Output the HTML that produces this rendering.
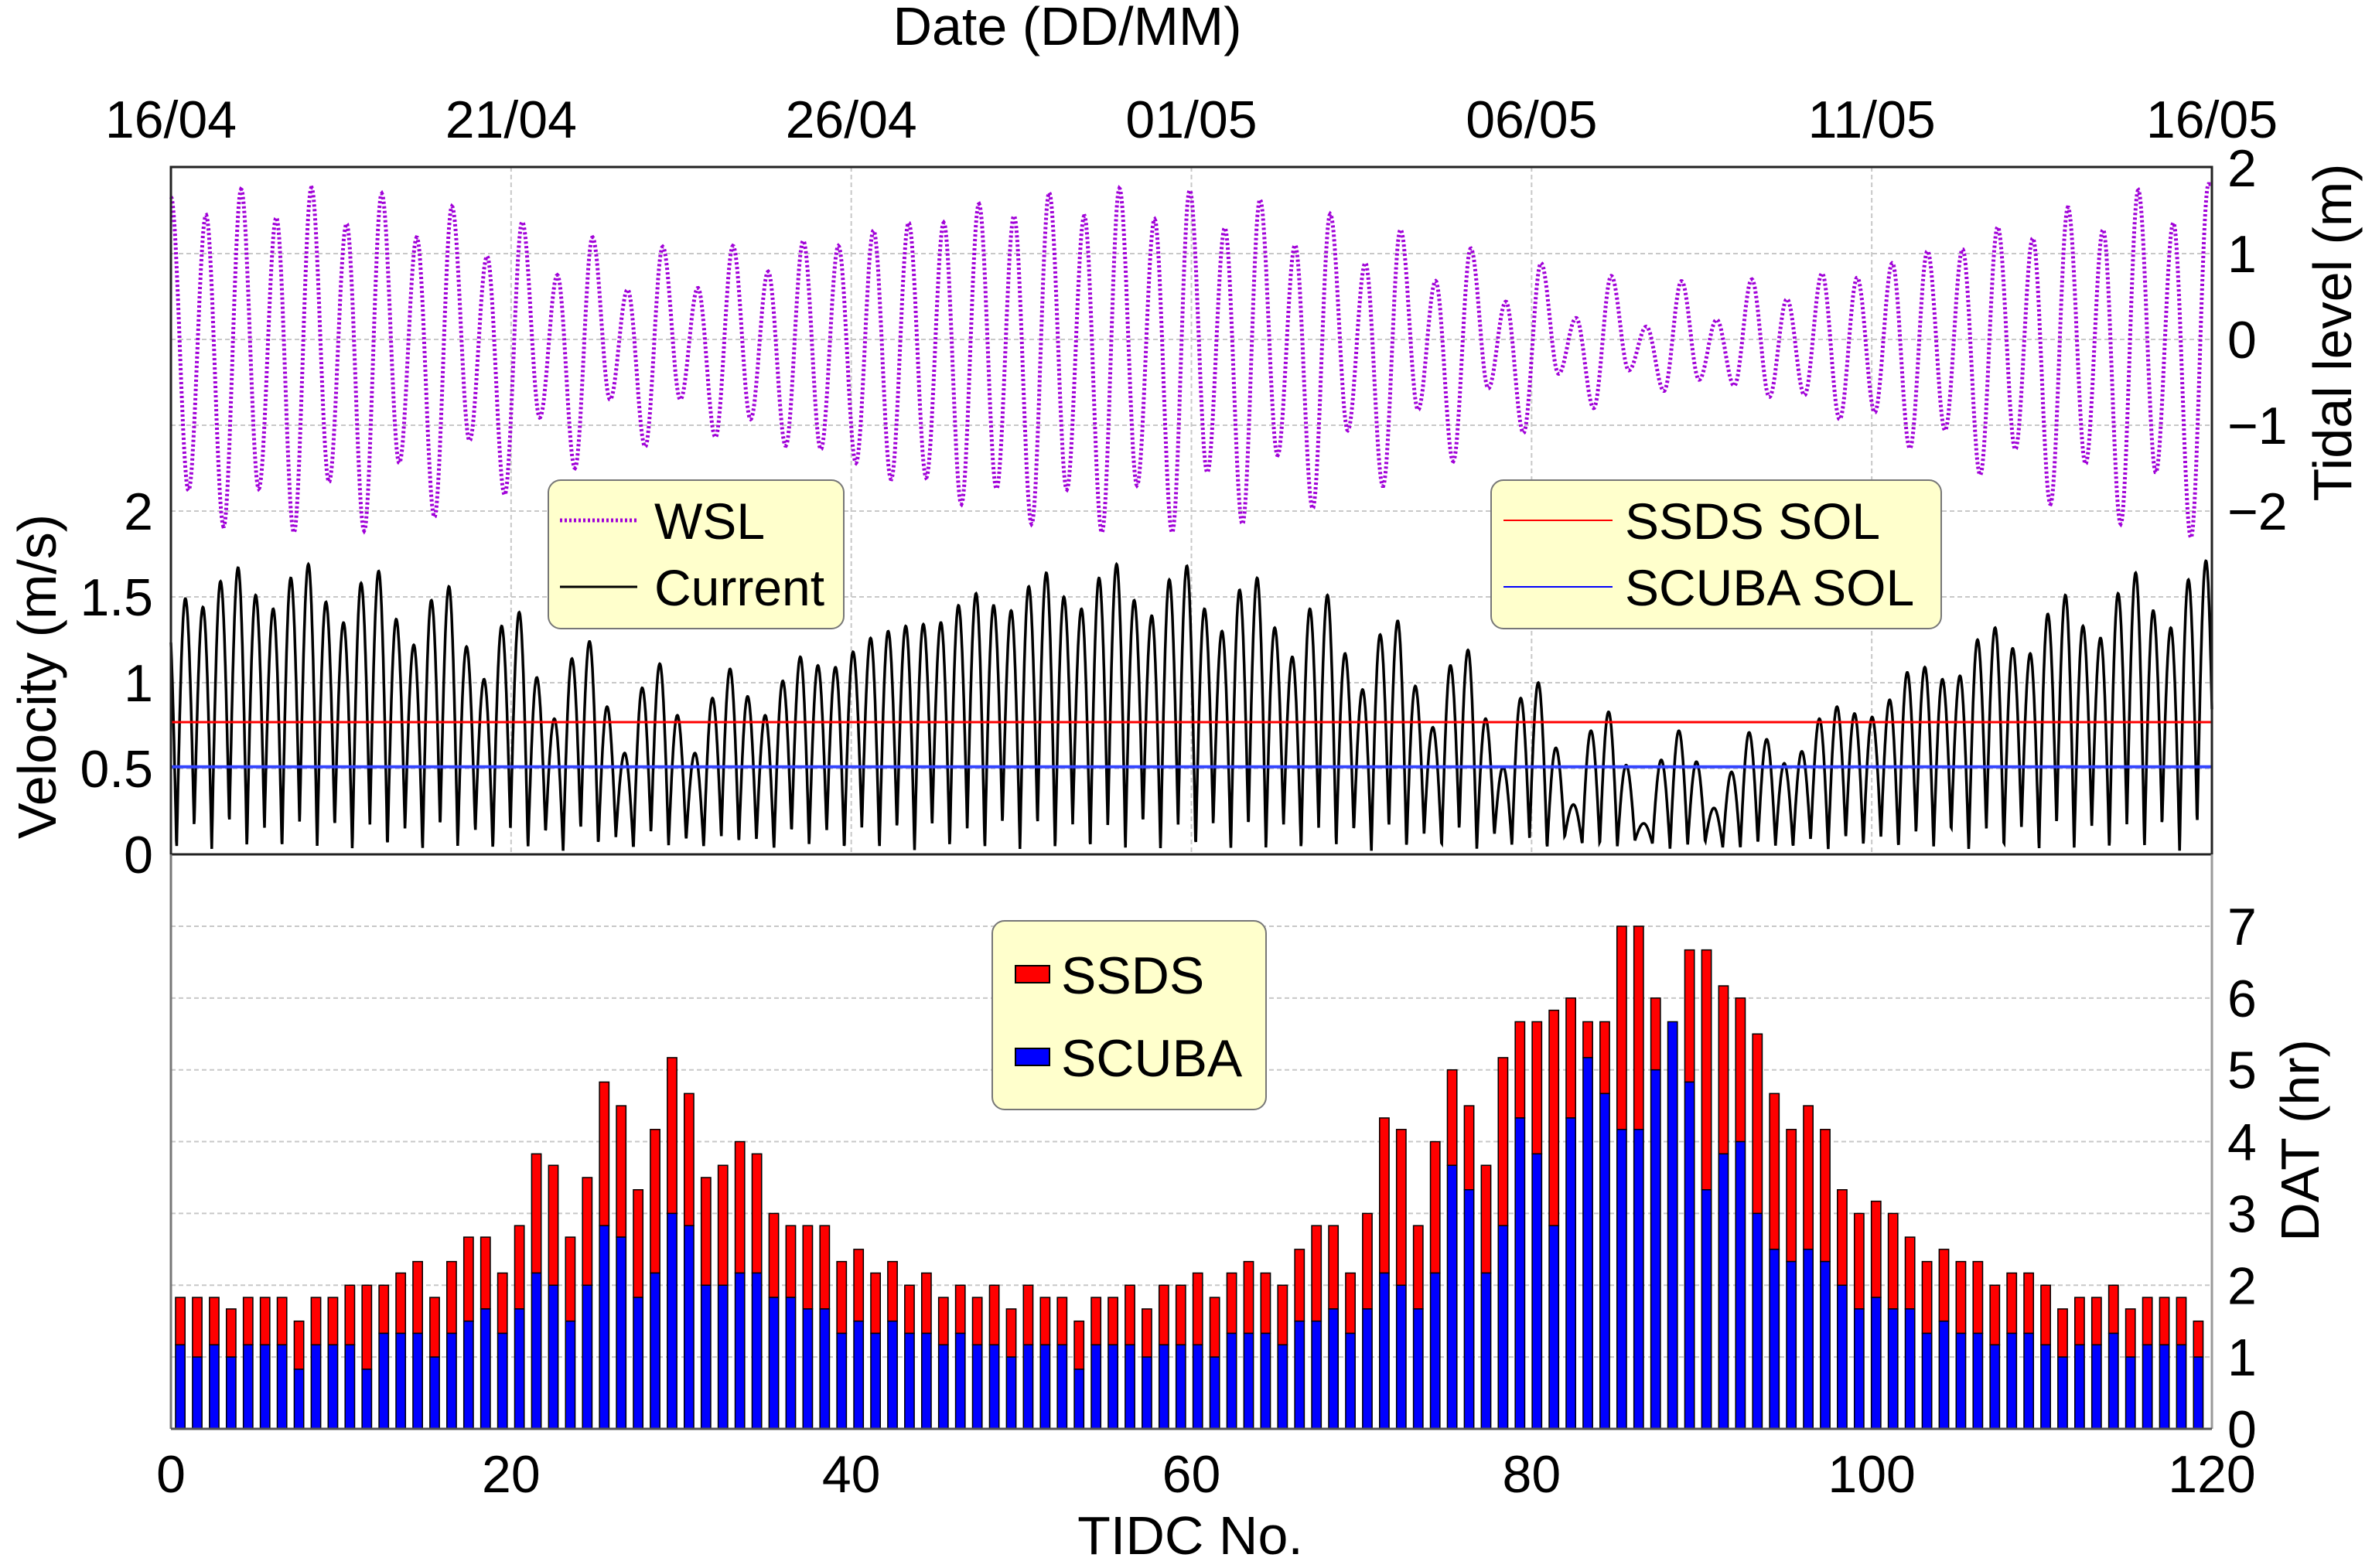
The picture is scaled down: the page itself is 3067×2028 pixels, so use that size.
<!DOCTYPE html>
<html><head><meta charset="utf-8"><style>
html,body{margin:0;padding:0;background:#fff;}
svg{display:block;font-family:"Liberation Sans",Arial,sans-serif;}
</style></head><body>
<svg id="chart" width="3067" height="2028" viewBox="0 0 3067 2028" xmlns="http://www.w3.org/2000/svg">
<rect x="0" y="0" width="3067" height="2028" fill="#fff"/>
<g id="grid"></g>
<g id="bars"></g>
<g id="lines"></g>
<g id="frame"></g>
<g id="labels"></g>

<text x="1380" y="58" font-size="70" text-anchor="middle">Date (DD/MM)</text>
<text x="1539" y="2010" font-size="70" text-anchor="middle">TIDC No.</text>
<text transform="translate(72,875) rotate(-90)" font-size="70" text-anchor="middle">Velocity (m/s)</text>
<text transform="translate(3040,430) rotate(-90)" font-size="70" text-anchor="middle">Tidal level (m)</text>
<text transform="translate(2998,1475) rotate(-90)" font-size="70" text-anchor="middle">DAT (hr)</text>

<g>
<rect x="709" y="621" width="382" height="192" rx="16" fill="#ffffcc" stroke="#777" stroke-width="2"/>
<line x1="724" y1="673" x2="824" y2="673" stroke="#a000d8" stroke-width="5" stroke-dasharray="3 3"/>
<text x="846" y="697" font-size="66">WSL</text>
<line x1="724" y1="759" x2="824" y2="759" stroke="#000" stroke-width="3"/>
<text x="846" y="783" font-size="66">Current</text>
</g>
<g>
<rect x="1928" y="621" width="582" height="192" rx="16" fill="#ffffcc" stroke="#777" stroke-width="2"/>
<line x1="1944" y1="673" x2="2085" y2="673" stroke="#f00" stroke-width="2"/>
<text x="2101" y="697" font-size="66">SSDS SOL</text>
<line x1="1944" y1="759" x2="2085" y2="759" stroke="#00f" stroke-width="2"/>
<text x="2101" y="783" font-size="66">SCUBA SOL</text>
</g>
<g>
<rect x="1283" y="1191" width="354" height="244" rx="16" fill="#ffffcc" stroke="#777" stroke-width="2"/>
<rect x="1313" y="1249" width="44" height="22" fill="#f00" stroke="#000" stroke-width="2"/>
<text x="1372" y="1285" font-size="68">SSDS</text>
<rect x="1313" y="1356" width="44" height="22" fill="#00f" stroke="#000" stroke-width="2"/>
<text x="1372" y="1392" font-size="68">SCUBA</text>
</g>
</svg>
<script>
// ---------- data ----------
const dateLabels = ["16/04","21/04","26/04","01/05","06/05","11/05","16/05"];
const tidcTicks = [0,20,40,60,80,100,120];
const tideTicks = [2,1,0,-1,-2];
const velTicks = [2,1.5,1,0.5,0];
const datTicks = [0,1,2,3,4,5,6,7];
const ssdsSol = [0.77];
const scubaSol = [0.51];
const tideHighs = [1.66,1.45,1.75,1.42,1.77,1.35,1.70,1.19,1.55,0.97,1.37,0.75,1.19,0.58,1.08,
 0.60,1.09,0.79,1.15,1.09,1.27,1.36,1.36,1.58,1.44,1.71,1.44,1.76,1.40,1.74,
 1.30,1.63,1.10,1.46,0.89,1.28,0.68,1.06,0.44,0.89,0.25,0.74,0.15,0.68,
 0.23,0.70,0.47,0.77,0.72,0.89,1.03,1.05,1.31,1.18,1.54,1.28,1.74,1.36,1.81];
const tideLows = [-1.76,-2.18,-1.74,-2.25,-1.66,-2.23,-1.44,-2.07,-1.18,-1.81,-0.91,-1.50,-0.70,-1.25,-0.70,
 -1.14,-0.93,-1.24,-1.28,-1.44,-1.63,-1.61,-1.92,-1.74,-2.15,-1.75,-2.25,-1.70,-2.25,
 -1.55,-2.15,-1.35,-1.97,-1.06,-1.71,-0.82,-1.42,-0.57,-1.09,-0.40,-0.80,-0.36,-0.60,-0.47,
 -0.54,-0.67,-0.65,-0.93,-0.85,-1.27,-1.06,-1.58,-1.28,-1.92,-1.45,-2.15,-1.55,-2.31];
const velPeaks = [1.45,
 1.49,1.44,1.59,1.67,1.51,1.43,1.61,1.69,1.47,1.35,1.58,1.65,1.37,1.22,1.48,1.56,1.21,1.02,1.33,1.41,1.03,0.79,1.14,1.24,0.86,0.59,0.97,1.11,0.81,
 0.59,0.91,1.08,0.92,0.81,1.01,1.15,1.10,1.09,1.18,1.26,1.30,1.33,1.34,1.35,1.45,1.52,1.45,1.42,1.56,1.64,1.50,1.43,1.61,1.69,1.48,1.39,1.60,1.68,
 1.43,1.30,1.54,1.61,1.32,1.15,1.43,1.51,1.17,0.96,1.28,1.36,0.98,0.74,1.10,1.19,0.79,0.51,0.91,1.00,0.62,0.29,0.72,0.83,0.52,0.18,0.55,0.72,0.54,
 0.27,0.48,0.71,0.67,0.53,0.60,0.79,0.86,0.82,0.80,0.90,1.06,1.09,1.02,1.04,1.25,1.32,1.20,1.17,1.40,1.51,1.33,1.26,1.52,1.64,1.42,1.32,1.60,1.71];
const velLows = [0.02,0.15,0.03,0.17,0.03,0.15,0.02,0.17,0.04,0.15,0.02,0.16,0.03,0.14,0.02,0.15,0.04,0.13,0.02,0.15,
 0.03,0.12,0.02,0.14,0.05,0.10,0.03,0.12,0.05,0.08,0.04,0.10,0.06,0.08,0.03,0.12,0.05,0.13,0.02,0.15,
 0.03,0.14,0.02,0.16,0.03,0.15,0.02,0.17,0.03,0.16,0.02,0.17,0.02,0.15,0.03,0.17,0.02,0.16,0.03,0.17,
 0.02,0.15,0.03,0.16,0.02,0.15,0.04,0.13,0.02,0.15,0.03,0.12,0.04,0.14,0.03,0.11,0.05,0.09,0.03,0.10,
 0.06,0.05,0.04,0.08,0.06,0.03,0.05,0.07,0.04,0.03,0.06,0.05,0.04,0.08,0.03,0.09,0.05,0.10,0.03,0.12,
 0.04,0.13,0.02,0.14,0.03,0.15,0.02,0.16,0.03,0.15,0.02,0.17,0.03,0.16,0.02,0.17,0.03];
const ssdsHours = [1.83,1.83,1.83,1.67,1.83,1.83,1.83,1.5,1.83,1.83,
 2,2,2,2.17,2.33,1.83,2.33,2.67,2.67,2.17,
 2.83,3.83,3.67,2.67,3.5,4.83,4.5,3.33,4.17,5.17,
 4.67,3.5,3.67,4,3.83,3,2.83,2.83,2.83,2.33,
 2.5,2.17,2.33,2,2.17,1.83,2,1.83,2,1.67,
 2,1.83,1.83,1.5,1.83,1.83,2,1.67,2,2,
 2.17,1.83,2.17,2.33,2.17,2,2.5,2.83,2.83,2.17,
 3,4.33,4.17,2.83,4,5,4.5,3.67,5.17,5.67,
 5.67,5.83,6,5.67,5.67,7,7,6,5.67,6.67,
 6.67,6.17,6,5.5,4.67,4.17,4.5,4.17,3.33,3,
 3.17,3,2.67,2.33,2.5,2.33,2.33,2,2.17,2.17,
 2,1.67,1.83,1.83,2,1.67,1.83,1.83,1.83,1.5];
const scubaHours = [1.17,1,1.17,1,1.17,1.17,1.17,0.83,1.17,1.17,
 1.17,0.83,1.33,1.33,1.33,1,1.33,1.5,1.67,1.33,
 1.67,2.17,2,1.5,2,2.83,2.67,1.83,2.17,3,
 2.83,2,2,2.17,2.17,1.83,1.83,1.67,1.67,1.33,
 1.5,1.33,1.5,1.33,1.33,1.17,1.33,1.17,1.17,1,
 1.17,1.17,1.17,0.83,1.17,1.17,1.17,1,1.17,1.17,
 1.17,1,1.33,1.33,1.33,1.17,1.5,1.5,1.67,1.33,
 1.67,2.17,2,1.67,2.17,3.67,3.33,2.17,2.83,4.33,
 3.83,2.83,4.33,5.17,4.67,4.17,4.17,5,5.67,4.83,
 3.33,3.83,4,3,2.5,2.33,2.5,2.33,2,1.67,
 1.83,1.67,1.67,1.33,1.5,1.33,1.33,1.17,1.33,1.33,
 1.17,1,1.17,1.17,1.33,1,1.17,1.17,1.17,1];

// ---------- scales ----------
const NS = "http://www.w3.org/2000/svg";
const L = 221, R = 2860, TOP = 216, MID = 1105, BOT = 1848;
const X = t => L + t * (R - L) / 120;
const Yt = v => 439 - v * 111;
const Yv = v => MID - v * 222;
const Yd = h => BOT - h * 92.86;
function mk(tag, attrs, parent){ const e=document.createElementNS(NS,tag); for(const k in attrs) e.setAttribute(k,attrs[k]); parent.appendChild(e); return e; }
const grid=document.getElementById('grid'), bars=document.getElementById('bars'), lines=document.getElementById('lines'), frame=document.getElementById('frame'), labels=document.getElementById('labels');

// grid
tideTicks.forEach(v=>{ if(v<2){ const g=mk('line',{x1:L,x2:R,y1:Yt(v),y2:Yt(v),stroke:'#c8c8c8','stroke-width':2,'stroke-dasharray':'6 4'},grid);
 
  }});
velTicks.forEach(v=>{ if(v>0 && v<2){ const g=mk('line',{x1:L,x2:R,y1:Yv(v),y2:Yv(v),stroke:'#c8c8c8','stroke-width':2,'stroke-dasharray':'6 4'},grid);
 
  }});
tidcTicks.forEach(t=>{ if(t>0 && t<120){ const g=mk('line',{x1:X(t),x2:X(t),y1:TOP,y2:MID,stroke:'#c8c8c8','stroke-width':2,'stroke-dasharray':'6 4'},grid);
 
  }});
datTicks.forEach(h=>{ if(h>0){ const g=mk('line',{x1:L,x2:R,y1:Yd(h),y2:Yd(h),stroke:'#c8c8c8','stroke-width':2,'stroke-dasharray':'6 4'},grid);
 
  }});

// bars
const step = 118.65/119, bw = 0.56;
ssdsHours.forEach((tot,i)=>{
  const c = 0.55 + i*step; const b = scubaHours[i];
  const r = mk('rect',{x:X(c-bw/2),y:Yd(tot),width:X(bw)-L,height:Yd(b)-Yd(tot),fill:'#f00',stroke:'#000','stroke-width':1.5},bars);
  
  
  const s = mk('rect',{x:X(c-bw/2),y:Yd(b),width:X(bw)-L,height:Yd(0)-Yd(b),fill:'#00f',stroke:'#000','stroke-width':1.5},bars);
  
  
});

// tide line
const tideExt=[]; for(let i=0;i<tideHighs.length;i++){ tideExt.push(tideHighs[i]); if(i<tideLows.length) tideExt.push(tideLows[i]); }
const halfT = 120/(tideExt.length-1) * (119.8/120);
let d=''; for(let t=0;t<=120.001;t+=0.04){ let u=t/halfT, k=Math.min(Math.floor(u),tideExt.length-2), f=u-k; const a=tideExt[k], b=tideExt[k+1];
  const v = a + (b-a)*(1-Math.cos(Math.PI*Math.min(f,1)))/2; d += (d?'L':'M')+X(t).toFixed(1)+','+Yt(v).toFixed(1); }
const wsl = mk('path',{d:d,fill:'none',stroke:'#a000d8','stroke-width':5,'stroke-dasharray':'3 3'},lines);



// current line
const P = (119.65-0.85)/115;
d=''; for(let t=0;t<=120.001;t+=0.02){ const u=(t-0.85)/P+1; let i0=Math.floor(u); const f=u-i0; i0=Math.max(0,Math.min(i0,velPeaks.length-1));
  const lo = velLows[Math.min(i0,velLows.length-1)]; let v;
  if(f<0.5){ const pk=velPeaks[i0]; v = lo+(pk-lo)*Math.cos(Math.PI*f); }
  else { const pk=velPeaks[Math.min(i0+1,velPeaks.length-1)]; v = lo-(pk-lo)*Math.cos(Math.PI*f); }
  d += (d?'L':'M')+X(t).toFixed(1)+','+Yv(v).toFixed(1); }
const cur = mk('path',{d:d,fill:'none',stroke:'#000','stroke-width':3.5},lines);



const sl1 = mk('line',{x1:L,x2:R,y1:Yv(ssdsSol[0]),y2:Yv(ssdsSol[0]),stroke:'#f00','stroke-width':3},lines);


const sl2 = mk('line',{x1:L,x2:R,y1:Yv(scubaSol[0]),y2:Yv(scubaSol[0]),stroke:'#3344ff','stroke-width':4},lines);



// frame
mk('rect',{x:L,y:TOP,width:R-L,height:MID-TOP,fill:'none',stroke:'#222','stroke-width':3},frame);
mk('line',{x1:L,x2:L,y1:MID,y2:BOT,stroke:'#777','stroke-width':3},frame);
mk('line',{x1:R,x2:R,y1:MID,y2:BOT,stroke:'#999','stroke-width':3},frame);
mk('line',{x1:L,x2:R,y1:BOT,y2:BOT,stroke:'#555','stroke-width':3},frame);

// labels
function txt(x,y,s,anchor,name){ const e=mk('text',{x:x,y:y,'font-size':68,'text-anchor':anchor},labels); e.textContent=s;
 
  }
dateLabels.forEach((s,i)=>txt(X(tidcTicks[i]),178,s,'middle','date-tick-label'));
tidcTicks.forEach(t=>txt(X(t),1930,String(t),'middle','tidc-tick-label'));
tideTicks.forEach(v=>txt(2880,Yt(v)+24,(v<0?'\u2212':'')+Math.abs(v),'start','tide-tick-label'));
velTicks.forEach(v=>txt(198,Yv(v)+24,String(v),'end','velocity-tick-label'));
datTicks.forEach(h=>txt(2880,Yd(h)+24,String(h),'start','dat-tick-label'));
</script>
</body></html>
